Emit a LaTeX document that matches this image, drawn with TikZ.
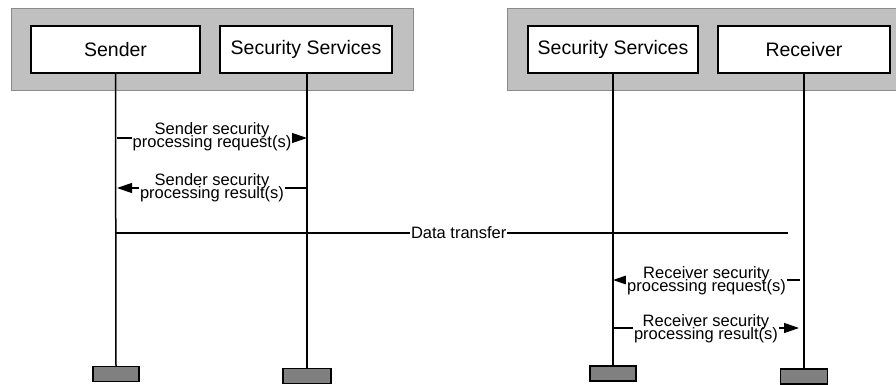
\documentclass[tikz,border=0pt]{standalone}
\usepackage{fontspec}
\setmainfont{Liberation Sans}
\usetikzlibrary{arrows.meta}
\definecolor{panelgray}{HTML}{C0C0C0}
\definecolor{paneledge}{HTML}{8A8A8A}
\definecolor{stubgray}{HTML}{808080}
\newcommand{\msgfont}{\fontsize{16.5}{13}\selectfont\lineskiplimit=-20pt\relax}

\begin{document}
\begin{tikzpicture}[x=1pt, y=-1pt,
    panel/.style={fill=panelgray, draw=paneledge, line width=0.9pt},
    actor/.style={draw, line width=1.5pt, fill=white, minimum height=47pt, inner sep=0pt, font=\fontsize{19.5}{22}\selectfont},
    stub/.style={draw, line width=1.4pt, fill=stubgray, minimum width=46pt, minimum height=15pt, inner sep=0pt},
    life/.style={line width=1.5pt},
    msg/.style={line width=1.3pt, -{Triangle[length=15pt,width=10pt]}},
    lbl/.style={fill=white, inner sep=1pt, align=center, font=\msgfont}]
    \useasboundingbox (0,0) rectangle (896,385);

    % Panels
    \draw[panel] (11,8) rectangle (413,90);
    \draw[panel] (507,8) rectangle (900,90);

    % Participants
    \node[actor, minimum width=169pt] (sender) at (115.5,49.5) {Sender};
    \node[actor, minimum width=172pt] (secleft) at (306,49.5) {Security Services};
    \node[actor, minimum width=170pt] (secright) at (613,49.5) {Security Services};
    \node[actor, minimum width=172pt] (receiver) at (804,49.5) {Receiver};

    % Lifeline ends
    \node[stub] (senderend) at (116,374) {};
    \node[stub, minimum width=48pt] (secleftend) at (307,376) {};
    \node[stub] (secrightend) at (613,373.5) {};
    \node[stub, minimum width=47pt] (receiverend) at (804,376.5) {};

    % Lifelines
    \draw[life] (sender.south) -- (senderend.north);
    \draw[life] (secleft.south -| secleftend.north) -- (secleftend.north);
    \draw[life] (secright.south) -- (secrightend.north);
    \draw[life] (receiver.south) -- (receiverend.north);

    % Message end points
    \coordinate (sreqa) at (117,138);
    \coordinate (sreqb) at (307,138);
    \coordinate (sresa) at (307,188);
    \coordinate (sresb) at (117,188);
    \coordinate (data1) at (116,233);
    \coordinate (data2) at (788,233);
    \coordinate (rreqa) at (800,280);
    \coordinate (rreqb) at (613,280);
    \coordinate (rresa) at (613,328);
    \coordinate (rresb) at (799,328);

    % Messages
    \draw[msg] (sreqa) -- node[lbl, yshift=1pt] (sreqtxt) {Sender security\\processing request(s)} (sreqb);
    \draw[msg] (sresa) -- node[lbl] (srestxt) {Sender security\\processing result(s)} (sresb);
    \draw[line width=1.3pt] (data1) -- node[lbl, pos=0.51] (datatxt) {Data transfer} (data2);
    \draw[msg] (rreqa) -- node[lbl, yshift=-1pt] (rreqtxt) {Receiver security\\processing request(s)} (rreqb);
    \draw[msg] (rresa) -- node[lbl, yshift=-1pt] (rrestxt) {Receiver security\\processing result(s)} (rresb);
  \end{tikzpicture}
\end{document}
